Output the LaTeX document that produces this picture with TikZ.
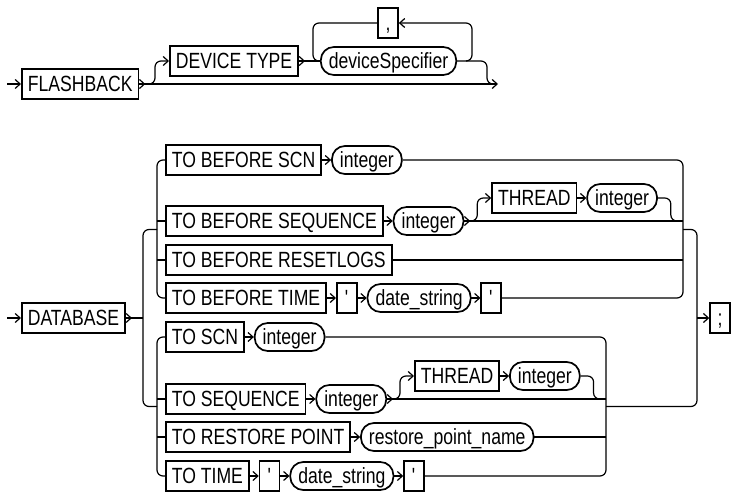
\documentclass[tikz,border=0pt]{standalone}
\usepackage{fontspec}
\setmainfont{Liberation Sans}[FakeStretch=0.80]
\usetikzlibrary{arrows.meta,positioning}
\tikzset{
  kw/.style={draw,line width=1.7pt,minimum height=30pt,inner xsep=6pt,inner ysep=0pt,
    text height=15.7pt,text depth=0pt},
  ref/.style={draw,line width=1.7pt,rounded corners=13pt,minimum height=28pt,inner xsep=8pt,
    inner ysep=0pt,text height=15.7pt,text depth=0pt},
  sym/.style={kw,minimum width=20pt,inner xsep=0pt},
  rail/.style={draw=black,line width=1.2pt,rounded corners=6pt},
  arrow/.style={rail,-{Straight Barb[length=5pt,width=9pt]}}
}

\begin{document}
\begin{tikzpicture}[x=1pt,y=-1pt,node distance=9pt,font=\fontsize{22}{26}\selectfont]
        \useasboundingbox (0,0) rectangle (732,495);
        % FLASHBACK
        \coordinate (fin) at (7,84);
        \coordinate (fend) at (498,84);
        \node[kw,anchor=west] (flash) at (21,84) {FLASHBACK};
        \node[kw,anchor=west] (dtype) at (169,61) {DEVICE TYPE};
        \node[ref,anchor=west] (devspec) at (320,61) {deviceSpecifier};
        \node[sym] (comma) at (388,23) {,};
        \draw[arrow] (fin) -- (flash);
        \draw[arrow] (flash) -- (fend);
        \draw[arrow] (flash.east) -- ++(6,0);
        \draw[arrow] (148,84) -| (155,61) -- (dtype);
        \draw[rail] (dtype) -- (devspec);
        \draw[arrow] (dtype.east) -- ++(6,0);
        \draw[rail] (devspec.east) -| (487,84) -- (493,84);
        \draw[arrow] (466,61) -| (472,23) -- (comma);
        \draw[rail] (comma.west) -| (313,61) -- (devspec);
        % DATABASE
        \coordinate (din) at (7,318);
        \node[kw,anchor=west] (db) at (21,318) {DATABASE};
        \draw[arrow] (din) -- (db);
        \draw[rail] (db) -- (143,318);
        \draw[arrow] (db.east) -- ++(6,0);
        \draw[rail] (157,229.5) -| (143,406.5) -- (157,406.5);
        % TO BEFORE ...
        \node[kw,anchor=west] (tbscn) at (165,160) {TO BEFORE SCN};
        \node[ref,right=of tbscn] (tbscnint) {integer};
        \node[kw,anchor=west] (tbseq) at (165,221) {TO BEFORE SEQUENCE};
        \node[ref,right=of tbseq] (tbseqint) {integer};
        \coordinate[right=6pt of tbseqint] (tbsplit);
        \node[kw,right=21pt of tbsplit,yshift=23pt] (tbthread) {THREAD};
        \node[ref,right=of tbthread] (tbthreadint) {integer};
        \node[kw,anchor=west] (tbreset) at (165,260) {TO BEFORE RESETLOGS};
        \node[kw,anchor=west] (tbtime) at (165,298) {TO BEFORE TIME};
        \node[sym,right=of tbtime] (tbq1) {\textquotesingle};
        \node[ref,right=of tbq1] (tbdate) {date\_string};
        \node[sym,right=of tbdate] (tbq2) {\textquotesingle};
        \draw[rail] (tbscn.west) -| (157,298) -- (tbtime);
        \draw[rail] (157,221) -- (tbseq);
        \draw[rail] (157,260) -- (tbreset);
        \draw[arrow] (tbscn) -- (tbscnint);
        \draw[arrow] (tbseq) -- (tbseqint);
        \draw[arrow] (tbseqint.east) -- ++(6,0);
        \draw[arrow] (tbsplit) -| ++(7,-23) -- (tbthread);
        \draw[arrow] (tbthread) -- (tbthreadint);
        \draw[rail] (tbthreadint.east) -| ++(13,23) -- ++(8,0);
        \draw[arrow] (tbtime) -- (tbq1);
        \draw[arrow] (tbq1) -- (tbdate);
        \draw[arrow] (tbdate) -- (tbq2);
        \draw[rail] (tbscnint.east) -| (683,298) -- (tbq2);
        \draw[rail] (tbseqint) -- (683,221);
        \draw[rail] (tbreset) -- (683,260);
        % TO ...
        \node[kw,anchor=west] (tscn) at (165,337) {TO SCN};
        \node[ref,right=of tscn] (tscnint) {integer};
        \node[kw,anchor=west] (tseq) at (165,399) {TO SEQUENCE};
        \node[ref,right=of tseq] (tseqint) {integer};
        \coordinate[right=6pt of tseqint] (tsplit);
        \node[kw,right=21pt of tsplit,yshift=23pt] (tthread) {THREAD};
        \node[ref,right=of tthread] (tthreadint) {integer};
        \node[kw,anchor=west] (trp) at (165,437) {TO RESTORE POINT};
        \node[ref,right=of trp] (trpname) {restore\_point\_name};
        \node[kw,anchor=west] (ttime) at (165,476) {TO TIME};
        \node[sym,right=of ttime] (tq1) {\textquotesingle};
        \node[ref,right=of tq1] (tdate) {date\_string};
        \node[sym,right=of tdate] (tq2) {\textquotesingle};
        \draw[rail] (tscn.west) -| (157,476) -- (ttime);
        \draw[rail] (157,399) -- (tseq);
        \draw[rail] (157,437) -- (trp);
        \draw[arrow] (tscn) -- (tscnint);
        \draw[arrow] (tseq) -- (tseqint);
        \draw[arrow] (tseqint.east) -- ++(6,0);
        \draw[arrow] (tsplit) -| ++(7,-23) -- (tthread);
        \draw[arrow] (tthread) -- (tthreadint);
        \draw[rail] (tthreadint.east) -| ++(13,23) -- ++(8,0);
        \draw[arrow] (trp) -- (trpname);
        \draw[arrow] (ttime) -- (tq1);
        \draw[arrow] (tq1) -- (tdate);
        \draw[arrow] (tdate) -- (tq2);
        \draw[rail] (tscnint.east) -| (606,476) -- (tq2);
        \draw[rail] (tseqint) -- (606,399);
        \draw[rail] (trpname) -- (606,437);
        % join and end
        \coordinate (sjoin) at (697,318);
        \node[sym,anchor=east] (semi) at (731,318) {;};
        \draw[rail] (683,229.5) -| (697,406.5) -- (606,406.5);
        \draw[arrow] (sjoin) -- (semi);
      \end{tikzpicture}
\end{document}
